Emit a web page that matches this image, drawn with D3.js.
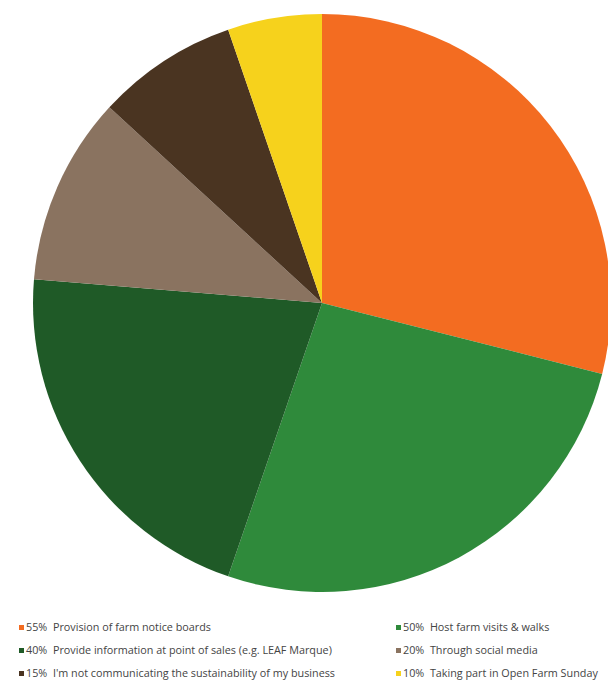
<!DOCTYPE html>
<html>
<head>
<meta charset="utf-8">
<script src="https://cdn.jsdelivr.net/npm/d3@7"></script>
<style>
  body { margin: 0; background: #fff; }
  svg { display: block; }
</style>
</head>
<body>
<svg id="chart" width="608" height="687"></svg>
<script>
// pie data, clockwise from 12 o'clock
const labels = [
  'Provision of farm notice boards',
  'Host farm visits & walks',
  'Provide information at point of sales (e.g. LEAF Marque)',
  'Through social media',
  "I'm not communicating the sustainability of my business",
  'Taking part in Open Farm Sunday'
];
const values = [55, 50, 40, 20, 15, 10];
const colors = ['#f36c21', '#2f8a3b', '#1f5a27', '#8a7360', '#4a3421', '#f6d21c'];

const svg = d3.select('#chart');
const cx = 322, cy = 303, radius = 289;

const pie = d3.pie().sort(null).value(d => d);
const arc = d3.arc().innerRadius(0).outerRadius(radius);

const g = svg.append('g').attr('transform', `translate(${cx},${cy})`);
g.selectAll('path')
  .data(pie(values))
  .join('path')
  .attr('d', arc)
  .attr('fill', (d, i) => colors[i]);

// legend, two columns
const legend = svg.append('g').attr('class', 'legend');
values.forEach((v, k) => {
  const col = k % 2, row = Math.floor(k / 2);
  const x = col === 0 ? 19 : 396;
  const y = 628 + row * 23;
  const item = legend.append('g').attr('transform', `translate(${x},${y})`);
  item.append('rect')
    .attr('x', 0).attr('y', -3)
    .attr('width', 5).attr('height', 5)
    .attr('fill', colors[k]);
  item.append('text')
    .attr('x', 7)
    .attr('y', 0)
    .attr('dominant-baseline', 'middle')
    .attr('font-family', 'Open Sans, Liberation Sans, sans-serif')
    .attr('font-size', '10.8px')
    .attr('fill', '#444')
    .attr('xml:space', 'preserve')
    .text(`${v}%  ${labels[k]}`);
});
</script>
</body>
</html>
